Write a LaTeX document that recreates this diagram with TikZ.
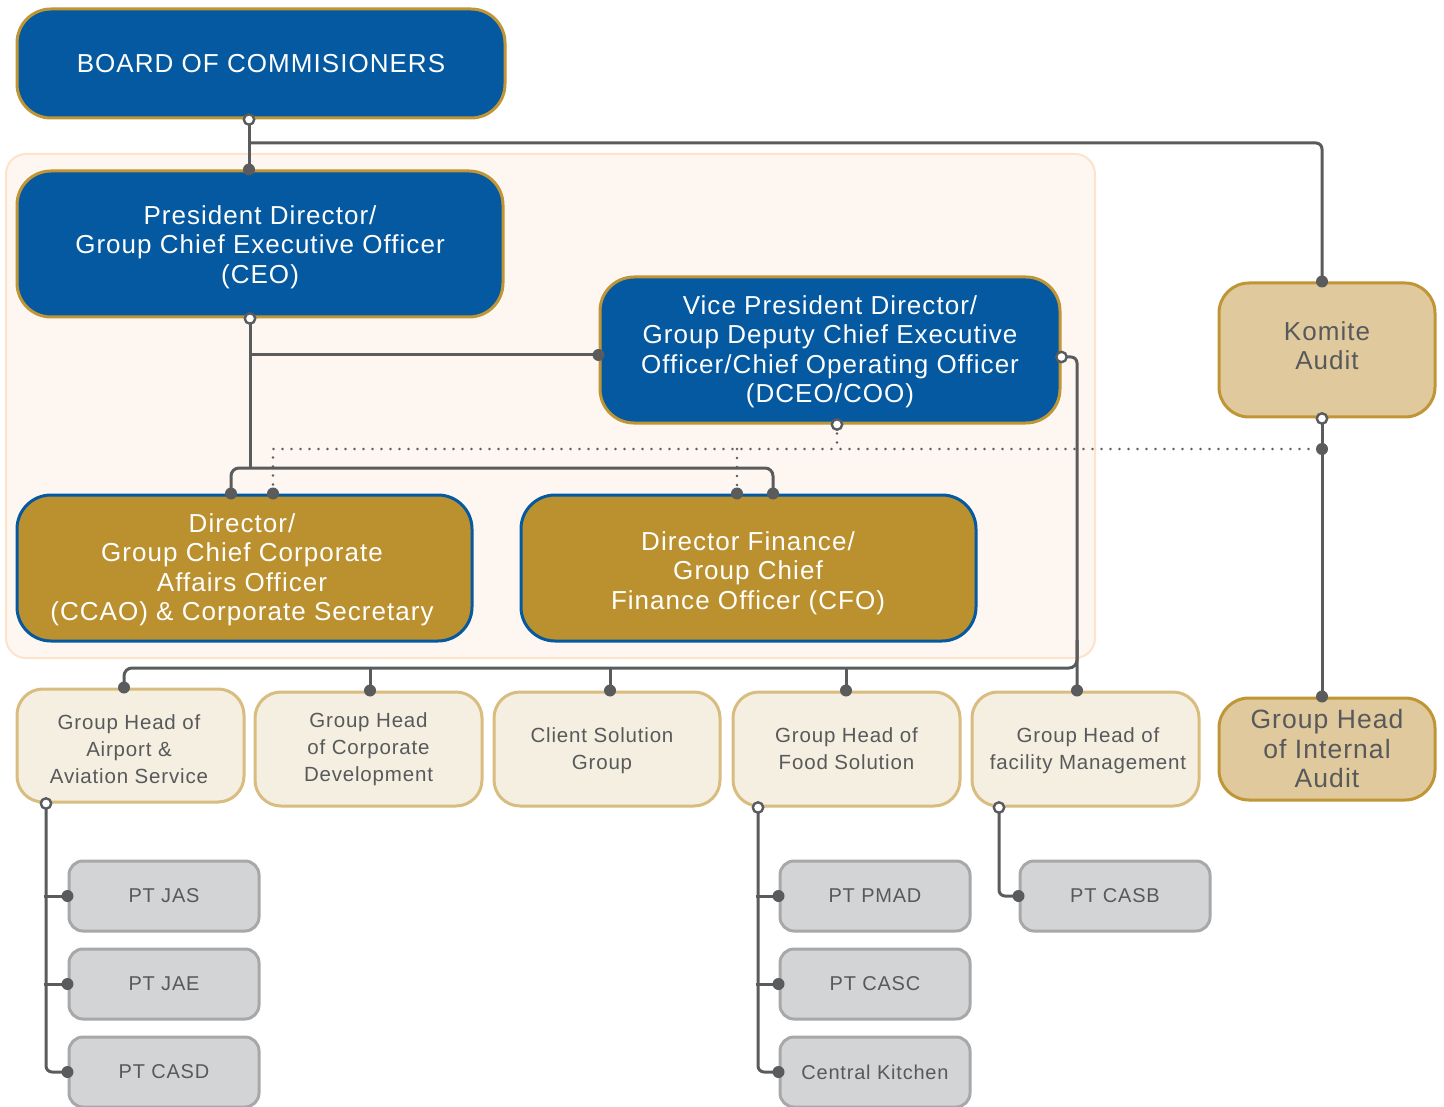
\documentclass[tikz,border=0pt]{standalone}
\usepackage{fontspec}
\setmainfont{Liberation Sans}[LetterSpace=4]
\definecolor{blueF}{HTML}{0459A0}
\definecolor{goldB}{HTML}{BF9536}
\definecolor{goldF}{HTML}{BB902F}
\definecolor{komF}{HTML}{E0C99C}
\definecolor{lightF}{HTML}{F4EFE1}
\definecolor{lightB}{HTML}{D9BC80}
\definecolor{grayF}{HTML}{D3D4D6}
\definecolor{grayB}{HTML}{A7A8AA}
\definecolor{txtG}{HTML}{58595B}
\definecolor{lineG}{HTML}{5A5B5D}
\definecolor{bgF}{HTML}{FEF7F1}
\definecolor{bgB}{HTML}{FDE3CB}
\newcommand\bigf{\fontsize{26}{29.5}\selectfont}
\newcommand\komf{\fontsize{26}{29}\selectfont}
\newcommand\iauf{\fontsize{26.5}{29.5}\selectfont}
\newcommand\midf{\fontsize{20.5}{27}\selectfont}
\newcommand\smf{\fontsize{20}{25}\selectfont}
\tikzset{
  base/.style={line width=3, inner sep=0pt, align=center},
  bluebox/.style={base, draw=goldB, fill=blueF, rounded corners=34, text=white, font=\bigf, minimum height=146},
  goldbox/.style={base, draw=blueF, fill=goldF, rounded corners=34, text=white, font=\bigf, minimum width=455, minimum height=146},
  kombox/.style={base, draw=goldB, fill=komF, rounded corners=30, text=txtG, minimum width=216},
  lightbox/.style={base, draw=lightB, fill=lightF, rounded corners=26, text=txtG, font=\midf, minimum width=227, minimum height=114},
  graybox/.style={base, draw=grayB, fill=grayF, rounded corners=14, text=txtG, font=\smf, minimum width=190, minimum height=70},
  lbl/.style={inner sep=0pt, align=center},
  conn/.style={draw=lineG, line width=3},
  dotl/.style={draw=lineG, line width=2.8, line cap=round, dash pattern=on 0pt off 9pt},
  fdot/.style={fill=lineG},
  odot/.style={draw=lineG, fill=white, line width=2.4}
}
\begin{document}
\begin{tikzpicture}[x=1pt,y=-1pt]
\useasboundingbox (0,0) rectangle (1444,1107);
\fill[white] (0,0) rectangle (1444,1107);
% zone
\draw[draw=bgB, fill=bgF, line width=2, rounded corners=20] (6,154) rectangle (1095,658);

% nodes
\node[bluebox, minimum width=488, minimum height=109] (board) at (261,63.5) {BOARD OF COMMISIONERS};
\node[bluebox, minimum width=486] (ceo) at (260,244) {};
\node[lbl, font=\bigf, text=white] (ceot) at (260,247) {President Director/\\Group Chief Executive Officer\\(CEO)};
\node[bluebox, minimum width=460] (dceo) at (830,350) {};
\node[lbl, font=\bigf, text=white] (dceot) at (830,352) {Vice President Director/\\Group Deputy Chief Executive\\Officer/Chief Operating Officer\\(DCEO/COO)};
\node[goldbox] (ccao) at (244.5,568) {};
\node[lbl, font=\bigf, text=white] (ccaot) at (242,570) {Director/\\Group Chief Corporate\\Affairs Officer\\(CCAO) \& Corporate Secretary};
\node[goldbox] (cfo) at (748.5,568) {};
\node[lbl, font=\bigf, text=white] (cfot) at (748,573) {Director Finance/\\Group Chief\\Finance Officer (CFO)};
\node[kombox, minimum height=134] (komite) at (1327,350) {};
\node[lbl, font=\komf, text=txtG] (komitet) at (1327,346) {Komite\\Audit};
\node[kombox, minimum height=102, font=\iauf] (iaudit) at (1327,749) {Group Head\\of Internal\\Audit};

\node[lightbox, minimum height=113] (airport) at (130.5,745.5) {};
\node[lbl, font=\midf, text=txtG] (airportt) at (129,749) {Group Head of\\Airport \&\\Aviation Service};
\node[lightbox] (corpdev) at (368.5,749) {Group Head\\of Corporate\\Development};
\node[lightbox, minimum width=226] (client) at (607,749) {};
\node[lbl, font=\midf, text=txtG] (clientt) at (602,751) {Client Solution\\Group};
\node[lightbox] (food) at (846.5,749) {Group Head of\\Food Solution};
\node[lightbox] (facility) at (1085.5,749) {};
\node[lbl, font=\midf, text=txtG] (facilityt) at (1088,751) {Group Head of\\facility Management};

\node[graybox] (jas) at (164,896) {PT JAS};
\node[graybox] (jae) at (164,984) {PT JAE};
\node[graybox] (casd) at (164,1072) {PT CASD};
\node[graybox] (pmad) at (875,896) {PT PMAD};
\node[graybox] (casc) at (875,984) {PT CASC};
\node[graybox] (kitchen) at (875,1072) {Central Kitchen};
\node[graybox] (casb) at (1115,896) {PT CASB};

% junction coordinates
\coordinate (jk) at (249,143);
\coordinate (jd) at (250,355);
\coordinate (jdot) at (1322,449);

% solid connectors
\draw[conn] (249,0 |- board.south) -- (249,0 |- ceo.north);
\draw[conn, rounded corners=6] (jk) -- (1322,143) -- (1322,0 |- komite.north);
\draw[conn] (250,0 |- ceo.south) -- (250,468);
\draw[conn] (jd) -- (dceo.west |- jd);
\draw[conn, rounded corners=8] (231,0 |- ccao.north) -- (231,468) -- (773,468) -- (773,0 |- cfo.north);
\draw[conn] (1322,0 |- komite.south) -- (1322,0 |- iaudit.north);
\draw[conn, rounded corners=6] (dceo.east |- 0,357) -- (1077,357) -- (1077,0 |- facility.north);
\draw[conn, rounded corners=8] (124,0 |- airport.north) -- (124,668) -- (1077,668) -- (1077,640);
\draw[conn] (370,668) -- (370,0 |- corpdev.north);
\draw[conn] (610,668) -- (610,0 |- client.north);
\draw[conn] (846,668) -- (846,0 |- food.north);

\draw[conn, rounded corners=6] (46,0 |- airport.south) -- (46,0 |- casd.west) -- (casd.west);
\draw[conn] (44,0 |- jas.west) -- (jas.west);
\draw[conn] (44,0 |- jae.west) -- (jae.west);
\draw[conn, rounded corners=6] (758,0 |- food.south) -- (758,0 |- kitchen.west) -- (kitchen.west);
\draw[conn] (756,0 |- pmad.west) -- (pmad.west);
\draw[conn] (756,0 |- casc.west) -- (casc.west);
\draw[conn, rounded corners=6] (999,0 |- facility.south) -- (999,0 |- casb.west) -- (casb.west);

% dotted connectors
\draw[dotl] (837,0 |- dceo.south) -- (837,449);
\draw[dotl] (273,0 |- ccao.north) -- (273,449) -- (jdot);
\draw[dotl] (737,449) -- (737,0 |- cfo.north);

% filled dots
\foreach \p in {(249,0 |- ceo.north), (1322,0 |- komite.north), (dceo.west |- jd),
  (231,0 |- ccao.north), (273,0 |- ccao.north), (737,0 |- cfo.north), (773,0 |- cfo.north),
  (jdot), (1322,0 |- iaudit.north), (124,0 |- airport.north), (370,0 |- corpdev.north),
  (610,0 |- client.north), (846,0 |- food.north), (1077,0 |- facility.north),
  (jas.west), (jae.west), (casd.west), (pmad.west), (casc.west), (kitchen.west), (casb.west)}
  \fill[fdot] \p circle (6);

% open dots
\foreach \p in {(249,0 |- board.south), (250,0 |- ceo.south), (837,0 |- dceo.south),
  (dceo.east |- 0,357), (1322,0 |- komite.south), (46,0 |- airport.south),
  (758,0 |- food.south), (999,0 |- facility.south)}
  \draw[odot] \p circle (5.2);
\end{tikzpicture}
\end{document}
